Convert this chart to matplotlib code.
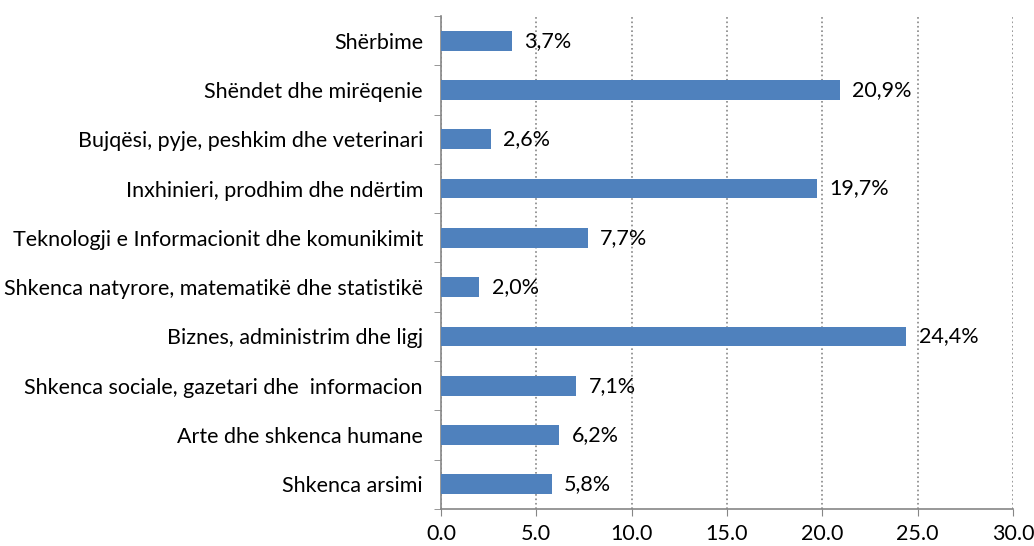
import numpy as np
import matplotlib.pyplot as plt
from matplotlib.ticker import MultipleLocator

# Te dhenat (nga poshte lart)
categories = [
    'Shkenca arsimi',
    'Arte dhe shkenca humane',
    'Shkenca sociale, gazetari dhe  informacion',
    'Biznes, administrim dhe ligj',
    'Shkenca natyrore, matematikë dhe statistikë',
    'Teknologji e Informacionit dhe komunikimit',
    'Inxhinieri, prodhim dhe ndërtim',
    'Bujqësi, pyje, peshkim dhe veterinari',
    'Shëndet dhe mirëqenie',
    'Shërbime',
]
values = [5.8, 6.2, 7.1, 24.4, 2.0, 7.7, 19.7, 2.6, 20.9, 3.7]
xticks = [0, 5, 10, 15, 20, 25, 30]

plt.rcParams['font.family'] = ['Lato', 'DejaVu Sans']
fs = 15.5

fig = plt.figure(figsize=(10.34, 5.46), dpi=100)
ax = fig.add_axes([0.4265, 0.0678, 0.5532, 0.9029])

y = np.arange(len(categories))
ax.barh(y, values, height=0.4, color='#4F81BD', zorder=3)

for yi, v in zip(y, values):
    ax.annotate(f'{v:.1f}%'.replace('.', ','), (v, yi), xytext=(9, 0),
                textcoords='offset points', va='center', ha='left',
                fontsize=fs, color='#000000', zorder=4)

ax.set_xlim(0, 30)
ax.set_ylim(-0.5, len(categories) - 0.5)
ax.set_xticks(xticks)
ax.set_xticklabels([f'{t:.1f}' for t in xticks], fontsize=fs)
ax.set_yticks(y)
ax.set_yticklabels(categories, fontsize=fs)
ax.yaxis.set_minor_locator(MultipleLocator(1, offset=0.5))
ax.tick_params(axis='y', which='major', length=0, pad=13)
ax.tick_params(axis='y', which='minor', length=5, color='#868686', direction='out')
ax.tick_params(axis='x', length=5, color='#868686', direction='out', pad=6)

ax.grid(axis='x', linestyle=':', color='#868686', linewidth=1.2, zorder=0)
ax.spines['top'].set_visible(False)
ax.spines['right'].set_visible(False)
ax.spines['left'].set_color('#868686')
ax.spines['bottom'].set_color('#868686')
ax.spines['left'].set_linewidth(1.2)
ax.spines['bottom'].set_linewidth(1.2)

fig.savefig('out.png', dpi=100)
